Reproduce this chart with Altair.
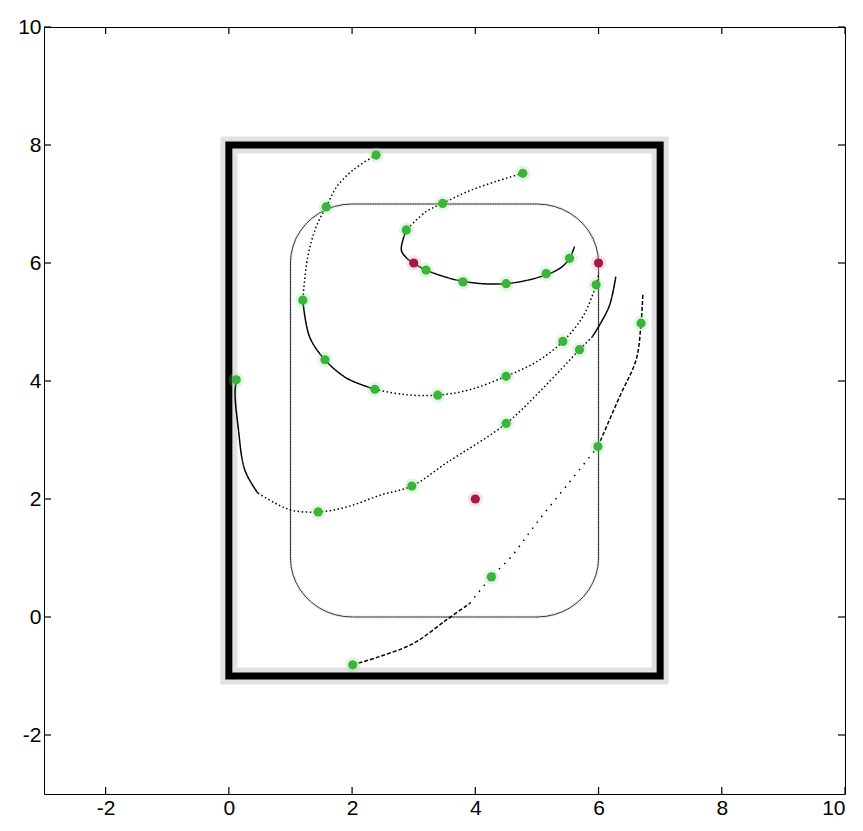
import altair as alt
import numpy as np
import pandas as pd

# ---- axes ----
X_DOMAIN = [-3, 10]
Y_DOMAIN = [-3, 10]
TICKS = [-2, 0, 2, 4, 6, 8, 10]
W, H = 801, 767
TICK_PX = 7

# ---- outer boundary (thick wall) ----
frame_x = [0, 0, 7, 7, 0]
frame_y = [-1, 8, 8, -1, -1]

# ---- inner rounded boundary ----
inner_left, inner_right, inner_bottom, inner_top = 1, 6, 0, 7
corner_r = 1.0

# ---- trajectories ----
a_x = [2.39, 2.02, 1.75, 1.58, 1.42, 1.28, 1.20, 1.31, 1.56, 1.91, 2.37, 2.85, 3.39, 3.90, 4.50, 5.00, 5.42, 5.75, 5.96, 6.00]
a_y = [7.83, 7.58, 7.29, 6.95, 6.62, 6.10, 5.37, 4.75, 4.36, 4.05, 3.86, 3.77, 3.76, 3.85, 4.08, 4.33, 4.67, 5.10, 5.63, 5.80]
a_breaks = [0, 6, 10, 19]
a_styles = ["dotted", "solid", "dotted"]

b_x = [4.77, 4.30, 3.85, 3.47, 3.20, 2.88, 2.80, 2.90, 3.00, 3.20, 3.80, 4.50, 5.15, 5.40, 5.53, 5.61]
b_y = [7.52, 7.37, 7.20, 7.01, 6.87, 6.56, 6.22, 6.07, 6.00, 5.88, 5.69, 5.65, 5.80, 5.93, 6.08, 6.28]
b_breaks = [0, 5, 15]
b_styles = ["dotted", "solid"]

c_x = [6.28, 6.17, 5.90, 5.69, 5.10, 4.50, 3.53, 2.97, 2.47, 1.93, 1.45, 1.02, 0.75, 0.47, 0.26, 0.15, 0.10, 0.12]
c_y = [5.77, 5.26, 4.75, 4.53, 3.88, 3.28, 2.61, 2.22, 2.07, 1.87, 1.78, 1.81, 1.93, 2.10, 2.49, 3.23, 3.79, 4.02]
c_breaks = [0, 2, 13, 17]
c_styles = ["solid", "dotted", "solid"]

d_x = [2.01, 2.45, 2.99, 3.53, 3.91, 4.26, 4.58, 5.00, 5.50, 5.99, 6.34, 6.61, 6.69, 6.72]
d_y = [-0.81, -0.67, -0.45, -0.05, 0.23, 0.68, 1.02, 1.60, 2.25, 2.89, 3.73, 4.36, 4.98, 5.49]
d_breaks = [0, 4, 9, 13]
d_styles = ["dashed", "sparse", "dashed"]

# ---- sample markers ----
green_x = [2.39, 1.58, 1.20, 1.56, 2.37, 3.39, 4.50, 5.42, 5.96,
           4.77, 3.47, 2.88, 3.20, 3.80, 4.50, 5.15, 5.53,
           0.12, 1.45, 2.97, 4.50, 5.69,
           2.01, 4.26, 5.99, 6.69]
green_y = [7.83, 6.95, 5.37, 4.36, 3.86, 3.76, 4.08, 4.67, 5.63,
           7.52, 7.01, 6.56, 5.88, 5.68, 5.65, 5.82, 6.08,
           4.02, 1.78, 2.22, 3.28, 4.53,
           -0.81, 0.68, 2.89, 4.98]

# ---- targets ----
red_x = [3.0, 6.0, 4.0]
red_y = [6.0, 6.0, 2.0]

XS = alt.Scale(domain=X_DOMAIN, nice=False, zero=False)
YS = alt.Scale(domain=Y_DOMAIN, nice=False, zero=False)
AX = alt.Axis(values=TICKS, labelExpr="'' + datum.value", title=None)


def xenc(field="x"):
    return alt.X(f"{field}:Q", scale=XS, axis=AX)


def yenc(field="y"):
    return alt.Y(f"{field}:Q", scale=YS, axis=AX)


# outer wall
frame_df = pd.DataFrame({"x": frame_x, "y": frame_y, "i": range(len(frame_x))})
wall_halo = alt.Chart(frame_df).mark_line(color="#a8a8a8", strokeWidth=17, strokeDash=[1, 2.5],
                                          opacity=0.35, strokeCap="square").encode(
    x=xenc(), y=yenc(), order="i:Q")
wall = alt.Chart(frame_df).mark_line(color="black", strokeWidth=7, strokeCap="square",
                                     strokeJoin="miter").encode(
    x=xenc(), y=yenc(), order="i:Q")

# inner rounded rectangle path
def arc(cx, cy, a0, a1, n=12):
    t = np.radians(np.linspace(a0, a1, n))
    return list(cx + corner_r * np.cos(t)), list(cy + corner_r * np.sin(t))

rx, ry = [], []
for cx, cy, a0, a1 in [
    (inner_right - corner_r, inner_bottom + corner_r, -90, 0),
    (inner_right - corner_r, inner_top - corner_r, 0, 90),
    (inner_left + corner_r, inner_top - corner_r, 90, 180),
    (inner_left + corner_r, inner_bottom + corner_r, 180, 270),
]:
    ax_, ay_ = arc(cx, cy, a0, a1)
    rx += ax_
    ry += ay_
rx.append(rx[0])
ry.append(ry[0])
inner_df = pd.DataFrame({"x": rx, "y": ry, "i": range(len(rx))})
inner_halo = alt.Chart(inner_df).mark_line(color="#9a9a9a", strokeWidth=3, strokeDash=[1, 1.5],
                                           opacity=0.5).encode(x=xenc(), y=yenc(), order="i:Q")
inner = alt.Chart(inner_df).mark_line(color="#3a3a3a", strokeWidth=1).encode(
    x=xenc(), y=yenc(), order="i:Q")

# trajectories split into dense / sparse segments
rows = []
for name, xs, ys, brks, styles in [
    ("a", a_x, a_y, a_breaks, a_styles),
    ("b", b_x, b_y, b_breaks, b_styles),
    ("c", c_x, c_y, c_breaks, c_styles),
    ("d", d_x, d_y, d_breaks, d_styles),
]:
    for k, st in enumerate(styles):
        for j in range(brks[k], brks[k + 1] + 1):
            rows.append({"x": xs[j], "y": ys[j], "seg": f"{name}{k}", "style": st, "i": j})
traj_df = pd.DataFrame(rows)
traj = alt.Chart(traj_df).mark_line(color="black", interpolate="catmull-rom").encode(
    x=xenc(), y=yenc(), detail="seg:N", order="i:Q",
    strokeDash=alt.StrokeDash("style:N", legend=None, scale=alt.Scale(
        domain=["solid", "dotted", "dashed", "sparse"],
        range=[[1, 0], [1.5, 2.5], [4, 2], [1.5, 6]])),
    strokeWidth=alt.StrokeWidth("style:N", legend=None, scale=alt.Scale(
        domain=["solid", "dotted", "dashed", "sparse"],
        range=[1.5, 1.5, 2.2, 1.5])),
)

green_df = pd.DataFrame({"x": green_x, "y": green_y})
green_halo = alt.Chart(green_df).mark_circle(color="#7fe07f", size=240, opacity=0.22).encode(x=xenc(), y=yenc())
green = alt.Chart(green_df).mark_circle(color="#3cb43c", size=85, opacity=1).encode(x=xenc(), y=yenc())

red_df = pd.DataFrame({"x": red_x, "y": red_y})
red_halo = alt.Chart(red_df).mark_circle(color="#f0a0b8", size=240, opacity=0.3).encode(x=xenc(), y=yenc())
red = alt.Chart(red_df).mark_circle(color="#a31c3c", size=85, opacity=1).encode(x=xenc(), y=yenc())

# inward tick marks on all four sides, placed in pixel space
tick_df = pd.DataFrame({"t": TICKS})
tick_mark = alt.Chart(tick_df).mark_rule(color="black", strokeWidth=1.2)
xt_bottom = tick_mark.encode(x=xenc("t"), y=alt.value(H), y2=alt.value(H - TICK_PX))
xt_top = tick_mark.encode(x=xenc("t"), y=alt.value(0), y2=alt.value(TICK_PX))
yt_left = tick_mark.encode(y=yenc("t"), x=alt.value(0), x2=alt.value(TICK_PX))
yt_right = tick_mark.encode(y=yenc("t"), x=alt.value(W), x2=alt.value(W - TICK_PX))

chart = alt.layer(
    wall_halo, wall, inner_halo, inner, traj,
    green_halo, red_halo, green, red,
    xt_bottom, xt_top, yt_left, yt_right,
).properties(
    width=W, height=H, autosize="none",
    padding={"left": 44, "top": 27, "right": 18, "bottom": 37},
    background="white",
).configure_view(
    stroke="black", strokeWidth=1,
).configure_axis(
    domain=False, ticks=False, grid=False,
    labelFont="Liberation Sans",
    labelFontSize=21, labelColor="black", labelPadding=3,
)

chart.save("out.html", embed_options={"renderer": "svg", "actions": False})
